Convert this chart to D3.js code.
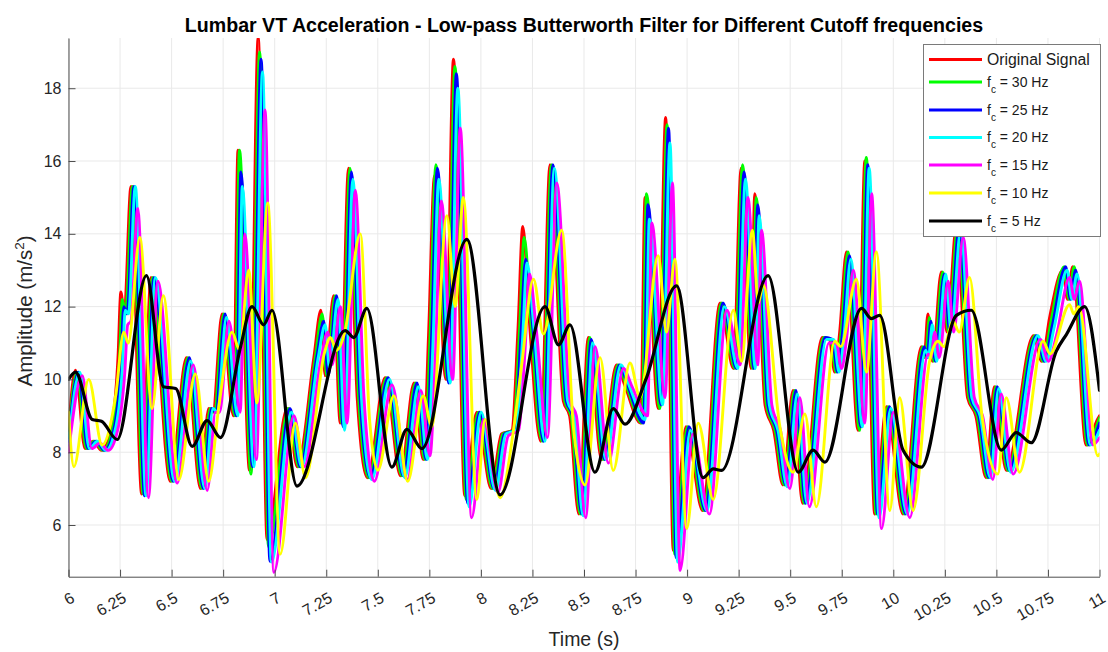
<!DOCTYPE html>
<html>
<head>
<meta charset="utf-8">
<script src="https://cdn.jsdelivr.net/npm/d3@7"></script>
<style>
  html, body { margin: 0; padding: 0; background: #ffffff; }
  svg { display: block; font-family: "Liberation Sans", Arial, Helvetica, sans-serif; }
</style>
</head>
<body>
<svg id="chart" width="1108" height="652"></svg>
<script>
// ---- data: [time (s), acceleration (m/s^2)] turning points of each trace ----
const original = [
  [6.000,8.6],[6.034,10.25],[6.080,8.1],[6.120,8.3],[6.160,8.05],[6.205,8.6],[6.240,10.6],[6.254,12.4],
  [6.270,11.8],[6.303,15.3],[6.355,6.85],[6.400,12.8],[6.494,7.2],[6.572,10.6],[6.640,7.0],[6.680,9.2],
  [6.700,9.1],[6.745,11.8],[6.800,9.0],[6.822,16.3],[6.878,7.5],[6.920,19.4],[6.963,5.6],[7.060,9.2],
  [7.110,7.6],[7.190,10.6],[7.224,11.9],[7.245,10.1],[7.286,12.3],[7.318,8.8],[7.358,15.8],[7.400,9.5],
  [7.450,7.3],[7.536,10.05],[7.610,7.35],[7.676,9.9],[7.720,7.8],[7.746,11.2],[7.775,15.6],[7.830,10.0],
  [7.867,18.8],[7.922,6.8],[7.980,9.1],[8.050,7.0],[8.100,8.5],[8.150,8.6],[8.180,11.4],[8.203,14.2],
  [8.235,11.6],[8.290,8.3],[8.335,15.9],[8.400,9.4],[8.430,9.0],[8.475,6.3],[8.521,11.15],[8.585,7.8],
  [8.658,10.4],[8.700,9.8],[8.775,8.8],[8.796,15.0],[8.860,9.2],[8.896,17.2],[8.933,5.3],[8.995,8.7],
  [9.075,6.4],[9.160,12.1],[9.225,10.3],[9.262,15.8],[9.310,10.3],[9.328,15.1],[9.378,9.3],[9.420,8.6],
  [9.465,7.1],[9.514,9.7],[9.560,6.6],[9.655,11.15],[9.690,11.1],[9.716,10.2],[9.740,11.3],[9.773,13.5],
  [9.829,8.6],[9.862,16.0],[9.910,6.3],[9.967,9.25],[10.047,6.3],[10.136,10.9],[10.150,10.6],[10.168,11.8],
  [10.190,10.5],[10.233,12.95],[10.260,11.3],[10.306,14.2],[10.360,9.5],[10.400,9.0],[10.450,7.3],[10.490,9.8],
  [10.548,7.5],[10.680,11.2],[10.720,10.5],[10.758,11.7],[10.822,13.0],[10.845,12.2],[10.870,13.1],[10.935,8.2],
  [10.990,8.9],[11.000,9.0]
];

const fc30 = [
  [6.000,8.4],[6.041,10.2],[6.087,8.1],[6.127,8.3],[6.167,8.05],[6.212,8.6],[6.247,10.5],[6.261,12.2],
  [6.277,11.8],[6.310,15.3],[6.362,6.85],[6.407,12.8],[6.501,7.2],[6.579,10.6],[6.647,7.0],[6.687,9.2],
  [6.707,9.1],[6.752,11.8],[6.807,9.0],[6.829,16.3],[6.885,7.4],[6.927,19.0],[6.970,5.4],[7.067,9.2],
  [7.117,7.6],[7.197,10.6],[7.231,11.8],[7.252,10.1],[7.293,12.3],[7.325,8.8],[7.365,15.8],[7.407,9.5],
  [7.457,7.3],[7.543,10.05],[7.617,7.35],[7.683,9.9],[7.727,7.8],[7.753,11.1],[7.782,15.9],[7.837,10.0],
  [7.874,18.6],[7.929,6.7],[7.987,9.1],[8.057,7.0],[8.107,8.5],[8.157,8.6],[8.187,11.3],[8.210,13.9],
  [8.242,11.6],[8.297,8.3],[8.342,15.9],[8.407,9.4],[8.437,9.0],[8.482,6.3],[8.528,11.15],[8.592,7.8],
  [8.665,10.4],[8.707,9.8],[8.782,8.8],[8.803,15.1],[8.867,9.2],[8.903,17.0],[8.940,5.2],[9.002,8.7],
  [9.082,6.4],[9.167,12.1],[9.232,10.3],[9.269,15.9],[9.317,10.3],[9.335,15.0],[9.385,9.3],[9.427,8.6],
  [9.472,7.1],[9.521,9.7],[9.567,6.6],[9.662,11.15],[9.697,11.1],[9.723,10.2],[9.747,11.3],[9.780,13.5],
  [9.836,8.6],[9.869,16.1],[9.917,6.3],[9.974,9.25],[10.054,6.3],[10.143,10.9],[10.157,10.6],[10.175,11.7],
  [10.197,10.5],[10.240,12.95],[10.267,11.3],[10.313,14.2],[10.367,9.5],[10.407,9.0],[10.457,7.3],[10.497,9.8],
  [10.555,7.5],[10.687,11.2],[10.727,10.5],[10.765,11.6],[10.829,13.1],[10.852,12.2],[10.877,13.1],[10.942,8.2],
  [10.997,8.9],[11.000,8.95]
];

const fc25 = [
  [6.000,8.3],[6.048,10.2],[6.094,8.1],[6.134,8.3],[6.174,8.05],[6.219,8.6],[6.254,10.4],[6.268,12.0],
  [6.284,11.8],[6.317,15.3],[6.369,6.8],[6.414,12.8],[6.508,7.2],[6.586,10.6],[6.654,7.0],[6.694,9.2],
  [6.714,9.1],[6.759,11.8],[6.814,9.0],[6.836,15.7],[6.892,7.6],[6.934,18.8],[6.977,5.0],[7.074,9.2],
  [7.124,7.6],[7.204,10.6],[7.238,11.6],[7.259,10.1],[7.300,12.3],[7.332,8.7],[7.372,15.7],[7.414,9.5],
  [7.464,7.3],[7.550,10.05],[7.624,7.35],[7.690,9.9],[7.734,7.8],[7.760,11.0],[7.789,15.8],[7.844,9.9],
  [7.881,18.4],[7.936,6.6],[7.994,9.1],[8.064,7.0],[8.114,8.5],[8.164,8.6],[8.194,11.2],[8.217,13.3],
  [8.249,11.6],[8.304,8.3],[8.349,15.9],[8.414,9.4],[8.444,9.0],[8.489,6.3],[8.535,11.1],[8.599,7.8],
  [8.672,10.4],[8.714,9.8],[8.789,8.8],[8.810,14.8],[8.874,9.3],[8.910,16.9],[8.947,5.1],[9.009,8.7],
  [9.089,6.4],[9.174,12.1],[9.239,10.3],[9.276,15.7],[9.324,10.3],[9.342,14.8],[9.392,9.3],[9.434,8.6],
  [9.479,7.1],[9.528,9.7],[9.574,6.6],[9.669,11.15],[9.704,11.1],[9.730,10.2],[9.754,11.3],[9.787,13.4],
  [9.843,8.7],[9.876,15.9],[9.924,6.3],[9.981,9.25],[10.061,6.3],[10.150,10.9],[10.164,10.6],[10.182,11.6],
  [10.204,10.5],[10.247,12.9],[10.274,11.3],[10.320,14.2],[10.374,9.5],[10.414,9.0],[10.464,7.3],[10.504,9.8],
  [10.562,7.5],[10.694,11.2],[10.734,10.5],[10.772,11.5],[10.836,13.1],[10.859,12.2],[10.884,13.0],[10.949,8.2],
  [11.000,8.8]
];

const fc20 = [
  [6.000,8.2],[6.055,10.2],[6.101,8.1],[6.141,8.3],[6.181,8.05],[6.226,8.6],[6.261,10.3],[6.275,11.9],
  [6.291,11.8],[6.324,15.3],[6.376,6.8],[6.421,12.8],[6.515,7.2],[6.593,10.5],[6.661,7.0],[6.701,9.2],
  [6.721,9.1],[6.766,11.7],[6.821,9.0],[6.843,15.3],[6.899,7.6],[6.941,18.45],[6.984,4.98],[7.081,9.1],
  [7.131,7.6],[7.211,10.6],[7.245,11.5],[7.266,10.3],[7.307,12.2],[7.339,8.6],[7.379,15.5],[7.421,9.5],
  [7.471,7.25],[7.557,10.0],[7.631,7.3],[7.697,9.8],[7.741,7.8],[7.767,10.9],[7.796,15.5],[7.851,9.9],
  [7.888,18.0],[7.943,6.5],[8.001,9.1],[8.071,6.95],[8.121,8.5],[8.171,8.6],[8.201,11.0],[8.224,13.2],
  [8.256,11.5],[8.311,8.3],[8.356,15.8],[8.421,9.4],[8.451,9.0],[8.496,6.25],[8.542,11.0],[8.606,7.8],
  [8.679,10.4],[8.721,9.8],[8.796,8.9],[8.817,14.4],[8.881,9.3],[8.917,16.5],[8.954,4.98],[9.016,8.6],
  [9.096,6.4],[9.181,12.0],[9.246,10.3],[9.283,15.5],[9.331,10.3],[9.349,14.5],[9.399,9.3],[9.441,8.6],
  [9.486,7.05],[9.535,9.6],[9.581,6.6],[9.676,11.1],[9.711,11.1],[9.737,10.2],[9.761,11.2],[9.794,13.3],
  [9.850,8.7],[9.883,15.8],[9.931,6.2],[9.988,9.2],[10.068,6.3],[10.157,10.8],[10.171,10.6],[10.189,11.5],
  [10.211,10.5],[10.254,12.9],[10.281,11.3],[10.327,14.1],[10.381,9.5],[10.421,9.0],[10.471,7.3],[10.511,9.75],
  [10.569,7.45],[10.701,11.2],[10.741,10.5],[10.779,11.4],[10.843,13.0],[10.866,12.2],[10.891,12.9],[10.956,8.2],
  [11.000,8.6]
];

const fc15 = [
  [6.000,8.0],[6.067,10.1],[6.113,8.1],[6.153,8.25],[6.193,8.05],[6.238,8.6],[6.273,10.2],[6.287,11.5],
  [6.303,11.6],[6.336,14.7],[6.388,6.75],[6.433,12.7],[6.527,7.15],[6.605,10.4],[6.673,6.95],[6.713,9.1],
  [6.733,9.1],[6.778,11.6],[6.833,9.1],[6.855,14.0],[6.911,7.8],[6.953,17.4],[6.996,4.7],[7.093,9.0],
  [7.143,7.6],[7.223,10.5],[7.257,11.3],[7.278,10.4],[7.319,12.0],[7.351,8.8],[7.391,15.2],[7.433,9.5],
  [7.483,7.2],[7.569,9.85],[7.643,7.25],[7.709,9.7],[7.753,7.9],[7.779,10.6],[7.808,14.9],[7.863,10.0],
  [7.900,16.9],[7.955,6.2],[8.013,8.9],[8.083,6.9],[8.133,8.45],[8.183,8.6],[8.213,10.7],[8.236,12.9],
  [8.268,11.4],[8.323,8.4],[8.368,15.4],[8.433,9.4],[8.463,9.0],[8.508,6.2],[8.554,10.9],[8.618,7.7],
  [8.691,10.3],[8.733,9.8],[8.808,9.0],[8.829,14.3],[8.893,9.5],[8.929,15.4],[8.966,4.75],[9.028,8.5],
  [9.108,6.3],[9.193,11.9],[9.258,10.4],[9.295,15.0],[9.343,10.4],[9.361,14.1],[9.411,9.3],[9.453,8.6],
  [9.498,7.0],[9.547,9.5],[9.593,6.5],[9.688,11.0],[9.723,11.0],[9.749,10.3],[9.773,11.1],[9.806,13.0],
  [9.862,8.8],[9.895,15.1],[9.943,5.9],[10.000,9.1],[10.080,6.2],[10.169,10.7],[10.183,10.6],[10.201,11.3],
  [10.223,10.6],[10.266,12.7],[10.293,11.3],[10.339,13.9],[10.393,9.5],[10.433,9.0],[10.483,7.25],[10.523,9.6],
  [10.581,7.4],[10.713,11.1],[10.753,10.5],[10.791,11.2],[10.855,12.8],[10.878,12.2],[10.903,12.7],[10.968,8.2],
  [11.000,8.4]
];

const fc10 = [
  [6.000,9.1],[6.026,7.6],[6.098,10.0],[6.163,8.2],[6.230,9.6],[6.268,11.3],[6.290,11.0],[6.346,13.9],
  [6.405,9.2],[6.460,12.3],[6.535,7.25],[6.615,10.15],[6.680,7.2],[6.730,9.3],[6.793,11.3],[6.830,10.8],
  [6.874,13.0],[6.914,9.35],[6.966,14.85],[7.027,5.2],[7.100,8.8],[7.150,7.3],[7.240,10.7],[7.270,11.15],
  [7.300,10.8],[7.340,11.3],[7.415,14.0],[7.460,8.9],[7.500,7.5],[7.578,9.55],[7.645,7.2],[7.720,9.55],
  [7.762,8.7],[7.835,14.5],[7.875,12.0],[7.915,15.0],[7.980,6.7],[8.020,8.9],[8.093,6.75],[8.158,8.6],
  [8.200,10.5],[8.255,12.75],[8.303,11.25],[8.392,14.1],[8.450,8.6],[8.505,7.1],[8.578,10.6],[8.642,7.5],
  [8.723,10.45],[8.772,9.5],[8.860,13.4],[8.900,11.3],[8.941,13.3],[8.998,5.9],[9.054,8.8],[9.127,6.7],
  [9.224,11.9],[9.264,10.5],[9.317,14.1],[9.345,12.1],[9.369,12.6],[9.450,8.7],[9.514,7.45],[9.571,9.05],
  [9.627,6.5],[9.716,11.05],[9.745,10.9],[9.821,12.75],[9.870,10.2],[9.918,13.5],[9.983,6.4],[10.031,9.5],
  [10.096,6.4],[10.176,10.5],[10.217,11.05],[10.245,10.9],[10.290,11.6],[10.320,11.3],[10.370,12.8],[10.430,9.0],
  [10.507,7.4],[10.548,9.5],[10.612,7.45],[10.726,11.05],[10.760,10.7],[10.855,12.05],[10.875,11.8],[10.900,12.0],
  [10.992,7.9],[11.000,7.95]
];

const fc5 = [
  [6.000,10.0],[6.034,10.2],[6.115,8.9],[6.160,8.85],[6.236,8.35],[6.378,12.85],[6.460,9.8],[6.520,9.75],
  [6.600,8.16],[6.672,8.87],[6.737,8.4],[6.833,10.86],[6.890,12.0],[6.946,11.5],[6.987,11.9],[7.108,7.07],
  [7.342,11.34],[7.383,11.15],[7.447,11.95],[7.568,7.59],[7.641,8.63],[7.714,8.1],[7.932,13.85],[8.093,6.83],
  [8.311,12.0],[8.376,10.95],[8.432,11.5],[8.553,7.45],[8.642,9.2],[8.699,8.77],[8.800,10.0],[8.949,12.57],
  [9.078,7.3],[9.127,7.54],[9.167,7.5],[9.393,12.85],[9.539,7.45],[9.611,8.06],[9.668,7.73],[9.846,11.95],
  [9.894,11.67],[9.934,11.76],[10.047,8.06],[10.136,7.59],[10.306,11.76],[10.378,11.9],[10.524,8.06],[10.596,8.54],
  [10.669,8.26],[10.790,10.77],[10.840,11.24],[10.928,12.0],[11.000,9.7]
];

const seriesData   = [original, fc30, fc25, fc20, fc15, fc10, fc5];
const seriesLabels = ["Original Signal", "30", "25", "20", "15", "10", "5"];
const seriesColors = ["#ff0000", "#00ff00", "#0000ff", "#00ffff", "#ff00ff", "#ffff00", "#000000"];

const xTickValues = [6, 6.25, 6.5, 6.75, 7, 7.25, 7.5, 7.75, 8, 8.25, 8.5, 8.75, 9,
                     9.25, 9.5, 9.75, 10, 10.25, 10.5, 10.75, 11];
const yTickValues = [6, 8, 10, 12, 14, 16, 18];

const titleText = "Lumbar VT Acceleration - Low-pass Butterworth Filter for Different Cutoff frequencies";

// ---- layout ----
const svg = d3.select("#chart");
const plot = { left: 68.5, right: 1099.5, top: 38, bottom: 576.7 };

const x = d3.scaleLinear().domain([6, 11]).range([plot.left, plot.right]);
const y = d3.scaleLinear().domain([4.58, 19.38]).range([plot.bottom, plot.top]);

svg.append("rect").attr("width", 1108).attr("height", 652).attr("fill", "#ffffff");

svg.append("defs").append("clipPath").attr("id", "plot-clip")
  .append("rect")
  .attr("x", plot.left).attr("y", plot.top)
  .attr("width", plot.right - plot.left).attr("height", plot.bottom - plot.top);

// grid
const grid = svg.append("g").attr("stroke", "#e9e9e9").attr("stroke-width", 1);
grid.selectAll("line.gx").data(xTickValues).join("line")
  .attr("x1", d => x(d)).attr("x2", d => x(d))
  .attr("y1", plot.top).attr("y2", plot.bottom);
grid.selectAll("line.gy").data(yTickValues).join("line")
  .attr("x1", plot.left).attr("x2", plot.right)
  .attr("y1", d => y(d)).attr("y2", d => y(d));

// traces, drawn in order so the heavily filtered ones sit on top
const line = d3.line()
  .x(d => x(d[0]))
  .y(d => y(d[1]))
  .curve(d3.curveMonotoneX);

const traces = svg.append("g").attr("clip-path", "url(#plot-clip)");
seriesData.forEach((data, i) => {
  traces.append("path")
    .datum(data)
    .attr("fill", "none")
    .attr("stroke", seriesColors[i])
    .attr("stroke-width", i === 6 ? 3.2 : 2.9)
    .attr("stroke-linejoin", "round")
    .attr("stroke-linecap", "round")
    .attr("d", line);
});

// axes
const axisColor = "#4d4d4d";
const labelColor = "#262626";

const xAxis = svg.append("g")
  .attr("transform", `translate(0,${plot.bottom})`)
  .call(d3.axisBottom(x).tickValues(xTickValues).tickSizeInner(-7).tickSizeOuter(0)
        .tickFormat(d => String(d)));
xAxis.select(".domain").attr("stroke", axisColor);
xAxis.selectAll(".tick line").attr("stroke", axisColor);
xAxis.selectAll(".tick text")
  .attr("x", 4).attr("y", 19.5).attr("dy", "0.35em")
  .attr("text-anchor", "end")
  .attr("transform", "rotate(-30, 4, 19.5)")
  .attr("fill", labelColor)
  .style("font-size", "16px")
  .style("font-family", "'Liberation Sans', Arial, sans-serif");

const yAxis = svg.append("g")
  .attr("transform", `translate(${plot.left},0)`)
  .call(d3.axisLeft(y).tickValues(yTickValues).tickSizeInner(-7).tickSizeOuter(0).tickPadding(7)
        .tickFormat(d => String(d)));
yAxis.select(".domain").attr("stroke", axisColor);
yAxis.selectAll(".tick line").attr("stroke", axisColor);
yAxis.selectAll(".tick text")
  .attr("fill", labelColor)
  .style("font-size", "16px")
  .style("font-family", "'Liberation Sans', Arial, sans-serif");

// title and axis labels
svg.append("text")
  .attr("x", 584).attr("y", 31.5)
  .attr("text-anchor", "middle")
  .attr("font-weight", "bold")
  .attr("font-size", 19.6)
  .attr("fill", "#000000")
  .text(titleText);

svg.append("text")
  .attr("x", 584).attr("y", 646)
  .attr("text-anchor", "middle")
  .attr("font-size", 19.5)
  .attr("fill", labelColor)
  .text("Time (s)");

const yLabel = svg.append("text")
  .attr("transform", "translate(32,311) rotate(-90)")
  .attr("text-anchor", "middle")
  .attr("font-size", 20.5)
  .attr("fill", labelColor);
yLabel.append("tspan").text("Amplitude (m/s");
yLabel.append("tspan").attr("dy", -8).attr("font-size", 13.5).text("2");
yLabel.append("tspan").attr("dy", 8).text(")");

// legend
const legend = svg.append("g");
legend.append("rect")
  .attr("x", 923.5).attr("y", 44.5).attr("width", 177).attr("height", 192)
  .attr("fill", "#ffffff").attr("stroke", "#7a7a7a").attr("stroke-width", 1);

const legendRows = [59.5, 82, 110, 137.5, 165, 193, 221];
seriesLabels.forEach((label, i) => {
  const ry = legendRows[i];
  legend.append("line")
    .attr("x1", 929).attr("x2", 982).attr("y1", ry).attr("y2", ry)
    .attr("stroke", seriesColors[i]).attr("stroke-width", 3);
  const t = legend.append("text")
    .attr("x", 987).attr("y", i === 0 ? ry + 5.5 : ry + 4.5)
    .attr("font-size", i === 0 ? 15.8 : 14).attr("fill", "#1a1a1a");
  if (i === 0) {
    t.text(label);
  } else {
    t.append("tspan").text("f");
    t.append("tspan").attr("dy", 6).attr("font-size", 10).text("c");
    t.append("tspan").attr("dy", -6).text(` = ${label} Hz`);
  }
});
</script>
</body>
</html>
